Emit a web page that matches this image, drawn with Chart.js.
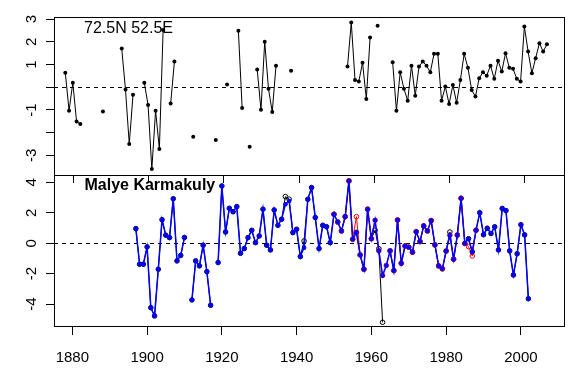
<!DOCTYPE html>
<html>
<head>
<meta charset="utf-8">
<script src="https://cdn.jsdelivr.net/npm/chart.js@4.4.0/dist/chart.umd.min.js"></script>
<style>
html,body{margin:0;padding:0;background:#fff;}
canvas{display:block;}
</style>
</head>
<body>
<canvas id="c" width="583" height="381"></canvas>
<script>
// ---------- data ----------
const topTitle = "72.5N 52.5E";
const botTitle = "Malye Karmakuly";

const topYears = [
 1878,1879,1880,1881,1882,1883,1884,1885,1886,1887,
 1888,1889,1890,1891,1892,1893,1894,1895,1896,1897,
 1898,1899,1900,1901,1902,1903,1904,1905,1906,1907,
 1908,1909,1910,1911,1912,1913,1914,1915,1916,1917,
 1918,1919,1920,1921,1922,1923,1924,1925,1926,1927,
 1928,1929,1930,1931,1932,1933,1934,1935,1936,1937,
 1938,1939,1940,1941,1942,1943,1944,1945,1946,1947,
 1948,1949,1950,1951,1952,1953,1954,1955,1956,1957,
 1958,1959,1960,1961,1962,1963,1964,1965,1966,1967,
 1968,1969,1970,1971,1972,1973,1974,1975,1976,1977,
 1978,1979,1980,1981,1982,1983,1984,1985,1986,1987,
 1988,1989,1990,1991,1992,1993,1994,1995,1996,1997,
 1998,1999,2000,2001,2002,2003,2004,2005,2006
];
const topValues = [
 0.64,-1.03,0.20,-1.51,-1.62,null,null,null,null,null,
 -1.07,null,null,null,null,1.70,-0.10,-2.50,-0.33,null,
 null,0.20,-0.78,-3.60,-1.03,-2.72,2.52,null,-0.72,1.13,
 null,null,null,null,-2.18,null,null,null,null,null,
 -2.32,null,null,0.12,null,null,2.49,-0.91,null,-2.62,
 null,0.78,-0.99,2.00,-0.07,-1.09,0.95,null,null,null,
 0.73,null,null,null,null,null,null,null,null,null,
 null,null,null,null,null,0.91,2.85,0.32,0.25,1.08,
 -0.52,2.19,null,2.71,null,null,null,1.10,-1.03,0.66,
 -0.07,-0.59,0.95,-0.37,0.91,1.13,0.95,0.66,1.47,1.47,
 -0.59,0.03,-0.74,0.10,-0.68,0.32,1.47,0.86,-0.12,-0.41,
 0.40,0.66,0.51,0.95,0.37,1.17,0.69,1.50,0.86,0.81,
 0.37,0.25,2.67,1.57,0.62,1.28,1.94,1.57,1.89
];

const botYears = [
 1897,1898,1899,1900,1901,1902,1903,1904,1905,1906,
 1907,1908,1909,1910,1911,1912,1913,1914,1915,1916,
 1917,1918,1919,1920,1921,1922,1923,1924,1925,1926,
 1927,1928,1929,1930,1931,1932,1933,1934,1935,1936,
 1937,1938,1939,1940,1941,1942,1943,1944,1945,1946,
 1947,1948,1949,1950,1951,1952,1953,1954,1955,1956,
 1957,1958,1959,1960,1961,1962,1963,1964,1965,1966,
 1967,1968,1969,1970,1971,1972,1973,1974,1975,1976,
 1977,1978,1979,1980,1981,1982,1983,1984,1985,1986,
 1987,1988,1989,1990,1991,1992,1993,1994,1995,1996,
 1997,1998,1999,2000,2001,2002
];
const blueValues = [
 0.96,-1.38,-1.38,-0.24,-4.24,-4.78,-1.71,1.55,0.53,0.37,
 2.93,-1.16,-0.80,0.38,null,-3.73,-1.16,-1.49,-0.13,-1.87,
 -4.08,null,-1.27,3.77,0.74,2.30,2.07,2.41,-0.66,-0.35,
 0.37,0.85,0.04,0.48,2.24,-0.13,-0.44,2.19,1.18,1.58,
 2.56,2.78,0.70,0.92,-0.88,-0.29,2.89,3.66,1.69,-0.35,
 1.18,1.09,0.04,1.91,1.40,0.81,1.75,4.10,0.26,0.72,
 -0.77,-1.71,2.24,0.30,1.51,-0.50,-2.12,-1.46,-0.50,-1.80,
 1.53,-1.32,-0.18,-0.26,-0.59,0.76,0.11,1.14,0.81,1.49,
 -0.11,-1.49,-1.68,-0.51,0.53,-1.05,0.54,2.96,-0.01,0.30,
 -0.57,0.86,2.01,0.56,0.99,0.64,1.08,-0.44,2.29,2.15,
 -0.50,-2.09,-0.69,1.22,0.55,-3.65
];
const blackValues = [
 0.96,-1.38,-1.38,-0.24,-4.24,-4.78,-1.71,1.55,0.53,0.37,
 2.93,-1.16,-0.80,0.38,null,-3.73,-1.16,-1.49,-0.13,-1.87,
 -4.08,null,-1.27,3.77,0.74,2.30,2.07,2.41,-0.66,-0.35,
 0.37,0.85,0.04,0.48,2.24,-0.13,-0.44,2.19,1.18,1.58,
 3.07,2.90,0.70,0.92,-0.88,0.15,2.89,3.66,1.69,-0.35,
 1.18,1.09,0.04,1.91,1.40,0.81,1.75,4.10,0.26,0.72,
 -0.77,-1.71,2.24,0.30,0.86,-0.36,-5.20,null,-0.50,-1.80,
 1.53,-1.32,-0.18,-0.26,-0.59,0.76,0.11,1.14,0.81,1.49,
 -0.11,-1.49,-1.68,-0.51,0.74,-1.05,0.54,2.96,-0.01,0.30,
 -0.57,0.86,2.01,0.56,0.99,0.64,1.08,-0.44,2.29,2.15,
 -0.50,-2.09,-0.69,1.22,0.55,-3.65
];
const redYears = [
 1950,1951,1952,1953,1954,1955,1956,1957,1958,1959,
 1960,1961,1962,1963,1964,1965,1966,1967,1968,1969,
 1970,1971,1972,1973,1974,1975,1976,1977,1978,1979,
 1980,1981,1982,1983,1984,1985,1986,1987,1988
];
const redValues = [
 1.91,1.40,0.81,1.75,4.10,0.26,1.75,-0.77,-1.71,2.24,
 0.30,1.51,-0.50,-2.12,-1.46,-0.50,-1.80,1.53,-1.32,-0.18,
 -0.26,-0.59,0.76,0.11,1.14,0.81,1.49,-0.11,-1.49,-1.68,
 -0.51,0.53,-1.05,0.54,2.96,-0.01,-0.22,-0.84,0.86
];

const xTickValues = [1880, 1900, 1920, 1940, 1960, 1980, 2000];
const topYTicks = [-3, -2, -1, 0, 1, 2, 3];
const topYLabels = [3, 2, 1, -1, -3];
const botYTicks = [-4, -2, 0, 2, 4];
const botYLabels = [-4, -2, 0, 2, 4];

// ---------- chart ----------
const FONT = '"Liberation Sans", Arial, Helvetica, sans-serif';
const pts = (xs, ys) => xs.map((x, i) => ({x: x, y: ys[i]}));

const panelPlugin = {
  id: 'panels',
  beforeDatasetsDraw(chart) {
    const ctx = chart.ctx, a = chart.chartArea;
    ctx.save();
    ctx.strokeStyle = '#000';
    ctx.lineWidth = 1;
    ctx.setLineDash([4, 4]);
    ['yTop', 'yBot'].forEach(id => {
      const y = Math.round(chart.scales[id].getPixelForValue(0)) + 0.5;
      ctx.beginPath(); ctx.moveTo(a.left, y); ctx.lineTo(a.right, y); ctx.stroke();
    });
    ctx.restore();
  },
  afterDraw(chart) {
    const ctx = chart.ctx, a = chart.chartArea;
    const yTop = chart.scales.yTop, yBot = chart.scales.yBot, xTop = chart.scales.xTop;
    ctx.save();
    ctx.strokeStyle = '#000';
    ctx.lineWidth = 1;
    ctx.setLineDash([]);
    // panel boxes
    ctx.strokeRect(a.left + 0.5, Math.round(yTop.top) + 0.5, a.right - a.left - 1, Math.round(yTop.bottom - yTop.top));
    ctx.strokeRect(a.left + 0.5, Math.round(yBot.top) + 0.5, a.right - a.left - 1, Math.round(yBot.bottom - yBot.top) - 1);
    // outward ticks of upper panel x axis
    xTickValues.forEach(v => {
      const x = Math.round(xTop.getPixelForValue(v)) + 0.5;
      ctx.beginPath(); ctx.moveTo(x, yTop.bottom); ctx.lineTo(x, yTop.bottom + 8); ctx.stroke();
    });
    // rotated y labels
    ctx.fillStyle = '#000';
    ctx.font = '15px ' + FONT;
    ctx.textAlign = 'center';
    ctx.textBaseline = 'alphabetic';
    const lx = a.left - 18.5;
    const drawLab = (scale, vals) => vals.forEach(v => {
      const y = scale.getPixelForValue(v);
      ctx.save(); ctx.translate(lx, y); ctx.rotate(-Math.PI / 2);
      ctx.fillText(String(v), 0, 0); ctx.restore();
    });
    drawLab(yTop, topYLabels);
    drawLab(yBot, botYLabels);
    // titles
    ctx.textAlign = 'left';
    ctx.font = '16px ' + FONT;
    ctx.fillText(topTitle, a.left + 30, yTop.top + 16.3);
    ctx.font = 'bold 16px ' + FONT;
    ctx.fillText(botTitle, a.left + 30.5, yBot.top + 15);
    ctx.restore();
  }
};

const yGrid = { drawOnChartArea: false, drawTicks: true, tickLength: 8, color: '#000', lineWidth: 1 };

new Chart(document.getElementById('c'), {
  type: 'line',
  data: {
    datasets: [
      { label: 'blue', data: pts(botYears, blueValues), xAxisID: 'x', yAxisID: 'yBot',
        borderColor: '#0000ff', backgroundColor: '#0000ff', borderWidth: 1.5,
        pointRadius: 2.3, pointBorderWidth: 0, pointBackgroundColor: '#0000ff', order: 0 },
      { label: 'red', data: pts(redYears, redValues), xAxisID: 'x', yAxisID: 'yBot',
        borderColor: '#ff0000', backgroundColor: 'rgba(0,0,0,0)', borderWidth: 1,
        pointRadius: 2.3, pointBorderWidth: 1, pointBorderColor: '#ff0000', pointBackgroundColor: 'rgba(0,0,0,0)', order: 1 },
      { label: 'black', data: pts(botYears, blackValues), xAxisID: 'x', yAxisID: 'yBot',
        borderColor: '#000000', backgroundColor: 'rgba(0,0,0,0)', borderWidth: 1,
        pointRadius: 2.3, pointBorderWidth: 1, pointBorderColor: '#000', pointBackgroundColor: 'rgba(0,0,0,0)', order: 2 },
      { label: topTitle, data: pts(topYears, topValues), xAxisID: 'xTop', yAxisID: 'yTop',
        borderColor: '#000000', backgroundColor: '#000000', borderWidth: 1,
        pointRadius: 2, pointBorderWidth: 0, pointBackgroundColor: '#000', order: 3 }
    ]
  },
  options: {
    responsive: false,
    animation: false,
    events: [],
    layout: { padding: { left: 0, right: 18, top: 17, bottom: 0 } },
    plugins: { legend: { display: false }, tooltip: { enabled: false }, title: { display: false } },
    scales: {
      x: {
        type: 'linear', position: 'bottom', min: 1875.1, max: 2011.8,
        afterBuildTicks: s => { s.ticks = xTickValues.map(v => ({value: v})); },
        afterFit: s => { s.height = 54; },
        grid: { drawOnChartArea: false, drawTicks: true, tickLength: 8, color: '#000', lineWidth: 1 },
        border: { display: false },
        ticks: { color: '#000', font: { family: FONT, size: 15 }, padding: 14, maxRotation: 0, minRotation: 0, autoSkip: false,
                 callback: v => String(v) }
      },
      xTop: { type: 'linear', position: 'bottom', display: false, min: 1875.0, max: 2010.8 },
      yBot: {
        type: 'linear', position: 'left', stack: 'panels', stackWeight: 152, min: -5.51, max: 4.49,
        afterBuildTicks: s => { s.ticks = botYTicks.map(v => ({value: v})); },
        afterFit: s => { s.width = 54; },
        grid: yGrid, border: { display: false }, ticks: { display: false }
      },
      yTop: {
        type: 'linear', position: 'left', stack: 'panels', stackWeight: 158, min: -3.86, max: 3.09,
        afterBuildTicks: s => { s.ticks = topYTicks.map(v => ({value: v})); },
        afterFit: s => { s.width = 54; },
        grid: yGrid, border: { display: false }, ticks: { display: false }
      }
    }
  },
  plugins: [panelPlugin]
});
</script>
</body>
</html>
